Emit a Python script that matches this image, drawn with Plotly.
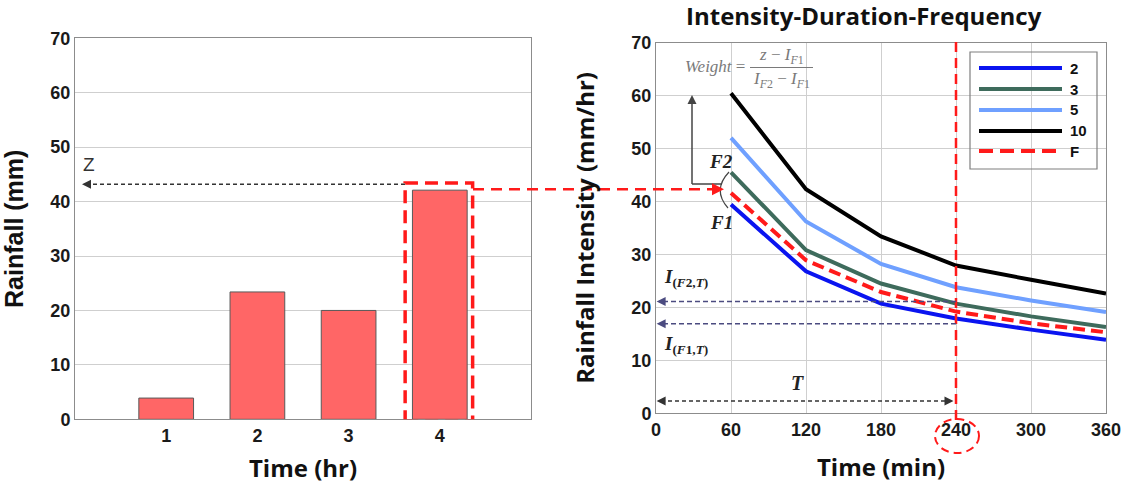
import plotly.graph_objects as go

W, H = 1124, 486

# ---------------- data ----------------
hours = [1, 2, 3, 4]
rainfall_mm = [3.9, 23.4, 20.0, 42.1]

durations_min = [60, 120, 180, 240, 300, 360]
idf_2 = [39.4, 26.8, 20.7, 17.9, 15.8, 13.9]
idf_3 = [45.5, 30.8, 24.5, 20.7, 18.3, 16.3]
idf_5 = [52.0, 36.2, 28.2, 23.8, 21.3, 19.1]
idf_10 = [60.4, 42.3, 33.4, 27.9, 25.2, 22.6]
idf_F = [41.6, 28.9, 22.9, 19.2, 17.0, 15.3]

series_names = ["2", "3", "5", "10", "F"]
series_colors = ["#0a14f0", "#3e6b5c", "#6fa0ff", "#000000", "#ff1a1a"]

z_value = 43.6
T_value = 240
I_F2_T = 21.1
I_F1_T = 16.9

hour_ticks = [1, 2, 3, 4]
min_ticks = [0, 60, 120, 180, 240, 300, 360]
y_ticks = [0, 10, 20, 30, 40, 50, 60, 70]


def px(x):
    return x / W


def py(y):
    return 1 - y / H


fig = go.Figure()

fig.add_trace(go.Bar(
    x=hours, y=rainfall_mm, width=0.6,
    marker=dict(color="#ff6666", line=dict(color="#595959", width=1)),
    xaxis="x", yaxis="y", showlegend=False, hoverinfo="skip"))

for name, vals, col in zip(series_names, [idf_2, idf_3, idf_5, idf_10, idf_F], series_colors):
    fig.add_trace(go.Scatter(
        x=durations_min, y=vals, mode="lines", name=name,
        line=dict(color=col, width=4, dash="12px,6px" if name == "F" else "solid"),
        xaxis="x2", yaxis="y2", showlegend=False))

tickfont = dict(family="Liberation Sans, Arial", size=18, color="#1a1a1a", weight="bold")
titlefont_arial = dict(family="Liberation Sans, Arial", size=25, color="#111", weight="bold")
titlefont_cal = dict(family="Open Sans", size=24, color="#111", weight="bold")
grid = "#cfcfcf"
frame = "#8c8c8c"

common = dict(zeroline=False, showline=True, mirror=True, linecolor=frame, linewidth=1,
              ticks="", tickfont=tickfont, automargin=True)

fig.update_layout(
    width=W, height=H, autosize=False,
    margin=dict(l=0, r=0, t=0, b=0, autoexpand=False),
    paper_bgcolor="white", plot_bgcolor="white",
    xaxis=dict(domain=[px(75), px(531)], range=[0, 5], tickvals=hour_ticks,
               showgrid=False, anchor="y",
               title=dict(text="Time (hr)", font=titlefont_cal, standoff=15), **common),
    yaxis=dict(domain=[py(419.3), py(38.3)], range=[0, 70], tickvals=y_ticks,
               showgrid=True, gridcolor=grid, anchor="x",
               title=dict(text="Rainfall (mm)", font=titlefont_arial, standoff=21), **common),
    xaxis2=dict(domain=[px(656), px(1106)], range=[0, 360], tickvals=min_ticks,
                showgrid=True, gridcolor=grid, anchor="y2",
                title=dict(text="Time (min)", font=titlefont_cal, standoff=20), **common),
    yaxis2=dict(domain=[py(413.3), py(42.5)], range=[0, 70], tickvals=y_ticks,
                showgrid=True, gridcolor=grid, anchor="x2",
                title=dict(text="Rainfall Intensity (mm/hr)", font=titlefont_cal, standoff=29), **common),
)

shapes = []
annotations = []


def text(x, y, s, font, xanchor="center", yanchor="middle"):
    annotations.append(dict(x=px(x), y=py(y), xref="paper", yref="paper", showarrow=False,
                            xanchor=xanchor, yanchor=yanchor, text=s, font=font))


def arrowhead(x, y, dx, dy, color, xref="paper", yref="paper", width=1.5):
    annotations.append(dict(x=x, y=y, xref=xref, yref=yref, ax=dx, ay=dy,
                            axref="pixel", ayref="pixel", text="", showarrow=True,
                            arrowhead=2, arrowsize=1.2, arrowwidth=width, arrowcolor=color))


# Title
text(864, 15, "<b>Intensity-Duration-Frequency</b>", dict(family="Open Sans", size=24, color="#111"))

# Red dashed box around bar 4
shapes.append(dict(type="rect", xref="x", yref="y", x0=3.62, x1=4.36, y0=-0.3, y1=43.4,
                   line=dict(color="#ff1a1a", width=3.5, dash="13px,7px")))
# Red connector from box to F curve
shapes.append(dict(type="line", xref="paper", yref="paper", x0=px(473), x1=px(716),
                   y0=py(189.3), y1=py(189.3), line=dict(color="#ff1a1a", width=2.5, dash="11px,7px")))
arrowhead(px(724), py(189.3), -10, 0, "#ff1a1a", width=2)

# Z dashed arrow
shapes.append(dict(type="line", xref="paper", yref="paper", x0=px(405), x1=px(86),
                   y0=py(184.3), y1=py(184.3), line=dict(color="#333", width=1.5, dash="4px,3px")))
arrowhead(px(82), py(184.3), 10, 0, "#333")
text(89, 165, "Z", dict(family="Liberation Sans, Arial", size=19, color="#333"))

# Vertical red dashed line at T
shapes.append(dict(type="line", xref="x2", yref="paper", x0=T_value, x1=T_value,
                   y0=py(420), y1=py(40), line=dict(color="#ff1a1a", width=2.5, dash="10px,6px")))
# Circle around 240 tick label
shapes.append(dict(type="circle", xref="paper", yref="paper", x0=px(935), x1=px(979),
                   y0=py(453), y1=py(419), line=dict(color="#ff1a1a", width=2, dash="8px,5px")))

# Weight formula
wfont = dict(family="Liberation Serif, DejaVu Serif", size=17, color="#7a7a7a")
text(747, 67, "<i>Weight</i> =", wfont, xanchor="right")
text(781, 56, "<i>z</i> − <i>I</i><sub><i>F</i>1</sub>", wfont)
text(781, 80, "<i>I</i><sub><i>F</i>2</sub> − <i>I</i><sub><i>F</i>1</sub>", wfont)
shapes.append(dict(type="line", xref="paper", yref="paper", x0=px(750), x1=px(813),
                   y0=py(67.5), y1=py(67.5), line=dict(color="#7a7a7a", width=1.2)))

# L-shaped arrow
gcol = "#444444"
shapes.append(dict(type="line", xref="paper", yref="paper", x0=px(722), x1=px(692),
                   y0=py(184), y1=py(184), line=dict(color=gcol, width=1.5)))
shapes.append(dict(type="line", xref="paper", yref="paper", x0=px(692), x1=px(692),
                   y0=py(184), y1=py(102), line=dict(color=gcol, width=1.5)))
arrowhead(px(692), py(95), 0, 10, gcol)

# Bracket between F2 and F1
shapes.append(dict(type="path", xref="paper", yref="paper",
                   path=f"M {px(729)},{py(172)} Q {px(712)},{py(190)} {px(728)},{py(208)}",
                   line=dict(color=gcol, width=1.2)))

ffont = dict(family="Liberation Serif, DejaVu Serif", size=19, color="#222")
text(721, 162, "<b><i>F2</i></b>", ffont)
text(721, 222, "<b><i>F1</i></b>", ffont)

# I(F2,T) and I(F1,T) arrows
icol = "#4b4b80"
for val in [I_F2_T, I_F1_T]:
    shapes.append(dict(type="line", xref="x2", yref="y2", x0=T_value, x1=3,
                       y0=val, y1=val, line=dict(color=icol, width=1.5, dash="5px,3px")))
    arrowhead(0.5, val, 10, 0, icol, xref="x2", yref="y2")
ifont = dict(family="Liberation Serif, DejaVu Serif", size=19, color="#222")
text(662, 278, "<b><i>I</i><sub>(<i>F</i>2,<i>T</i>)</sub></b>", ifont, xanchor="left")
text(662, 345, "<b><i>I</i><sub>(<i>F</i>1,<i>T</i>)</sub></b>", ifont, xanchor="left")

# T double arrow
shapes.append(dict(type="line", xref="x2", yref="y2", x0=4, x1=T_value - 4,
                   y0=2.3, y1=2.3, line=dict(color="#333", width=1.5, dash="4px,3px")))
arrowhead(0.5, 2.3, 10, 0, "#333", xref="x2", yref="y2")
arrowhead(T_value - 2, 2.3, -10, 0, "#333", xref="x2", yref="y2")
text(797, 383, "<b><i>T</i></b>", dict(family="Liberation Serif, DejaVu Serif", size=20, color="#222"))

# Manual legend
shapes.append(dict(type="rect", xref="paper", yref="paper", x0=px(970), x1=px(1097),
                   y0=py(169), y1=py(52), line=dict(color="#7f7f7f", width=1.2)))
leg_rows = [68, 89, 110, 131, 151]
for name, col, yy in zip(series_names, series_colors, leg_rows):
    shapes.append(dict(type="line", xref="paper", yref="paper", x0=px(979), x1=px(1062),
                       y0=py(yy), y1=py(yy),
                       line=dict(color=col, width=4, dash="14px,7px" if name == "F" else "solid")))
    text(1068, yy, name, dict(family="Liberation Sans, Arial", size=15, color="#111", weight="bold"),
         xanchor="left")

fig.update_layout(shapes=shapes, annotations=annotations)
fig.write_html("out.html")
